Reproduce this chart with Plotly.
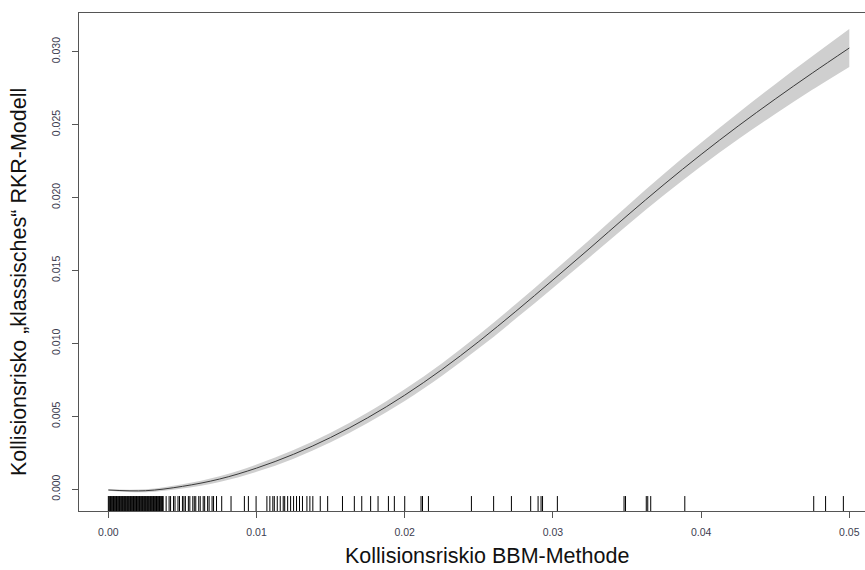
import plotly.graph_objects as go

# ---- data ----
x_grid = [0.0, 0.0025, 0.005, 0.0075, 0.01, 0.0125, 0.015, 0.0175, 0.02, 0.0225,
          0.025, 0.0275, 0.03, 0.0325, 0.035, 0.0375, 0.04, 0.0425, 0.045, 0.0475, 0.05]
fit = [-0.00005, -0.0001, 0.0002, 0.0007, 0.00145, 0.0024, 0.00355, 0.0049, 0.00645, 0.0082,
       0.01013, 0.0122, 0.01435, 0.01653, 0.01875, 0.0209, 0.02295, 0.0249, 0.02675, 0.02853, 0.03025]
ci_half = [0.00005, 0.0001, 0.00015, 0.0002, 0.00025, 0.0003, 0.00033, 0.00036, 0.0004, 0.00043,
           0.00047, 0.0005, 0.00055, 0.0006, 0.00066, 0.00073, 0.0008, 0.0009, 0.00102, 0.00115, 0.0013]

rug_x = [
    0.00000, 0.00005, 0.00010, 0.00015, 0.00020, 0.00025, 0.00030, 0.00035, 0.00040, 0.00045,
    0.00050, 0.00055, 0.00060, 0.00065, 0.00070, 0.00075, 0.00080, 0.00085, 0.00090, 0.00095,
    0.00100, 0.00105, 0.00110, 0.00115, 0.00120, 0.00125, 0.00130, 0.00135, 0.00140, 0.00145,
    0.00150, 0.00155, 0.00160, 0.00165, 0.00170, 0.00175, 0.00180, 0.00185, 0.00190, 0.00195,
    0.00200, 0.00205, 0.00210, 0.00215, 0.00220, 0.00225, 0.00230, 0.00235, 0.00240, 0.00245,
    0.00250, 0.00255, 0.00260, 0.00265, 0.00270, 0.00275, 0.00280, 0.00285, 0.00290, 0.00295,
    0.00300, 0.00305, 0.00310, 0.00315, 0.00320, 0.00325, 0.00330, 0.00335, 0.00340, 0.00345,
    0.00350, 0.00355, 0.00360, 0.00365, 0.00370,
    0.0039, 0.0041, 0.0042, 0.0044, 0.0045, 0.0047, 0.0048, 0.0050, 0.0051, 0.0052,
    0.0054, 0.0055, 0.0057, 0.0058, 0.0059, 0.0061, 0.0062, 0.0064, 0.0065, 0.0067,
    0.0068, 0.0070, 0.0071, 0.0073, 0.00765, 0.00828, 0.00918, 0.00945, 0.00997,
    0.0107, 0.0109, 0.0111, 0.0112, 0.0114, 0.0116, 0.0118, 0.0119, 0.0121, 0.0123,
    0.0125, 0.0127, 0.0129, 0.0131, 0.0134, 0.0136, 0.0138, 0.0143, 0.0148,
    0.0158, 0.0166, 0.0171, 0.0177, 0.0182, 0.0189, 0.0193, 0.0200,
    0.0211, 0.0212, 0.0216, 0.0245, 0.0260, 0.0272, 0.0285, 0.0290, 0.0292, 0.0293,
    0.0303, 0.0348, 0.0349, 0.0363, 0.0364, 0.0366, 0.0389, 0.0476, 0.0484, 0.0496,
]

x_ticks = [0.0, 0.01, 0.02, 0.03, 0.04, 0.05]
x_tick_text = ["0.00", "0.01", "0.02", "0.03", "0.04", "0.05"]
y_ticks = [0.0, 0.005, 0.01, 0.015, 0.02, 0.025, 0.03]
y_tick_text = ["0.000", "0.005", "0.010", "0.015", "0.020", "0.025", "0.030"]

x_title = "Kollisionsriskio BBM-Methode"
y_title = "Kollisionsrisko \u201eklassisches\u201c RKR-Modell"

# ---- figure ----
lower = [f - h for f, h in zip(fit, ci_half)]
upper = [f + h for f, h in zip(fit, ci_half)]

fig = go.Figure()
fig.add_trace(go.Scatter(x=x_grid, y=lower, mode="lines", line=dict(width=0, shape="spline"),
                         hoverinfo="skip", showlegend=False))
fig.add_trace(go.Scatter(x=x_grid, y=upper, mode="lines", line=dict(width=0, shape="spline"),
                         fill="tonexty", fillcolor="#cfcfcf", hoverinfo="skip", showlegend=False))
fig.add_trace(go.Scatter(x=x_grid, y=fit, mode="lines",
                         line=dict(color="#3a3a3a", width=1, shape="spline"), showlegend=False))

shapes = [dict(type="line", xref="x", yref="y domain", x0=v, x1=v, y0=0, y1=0.03,
               line=dict(color="black", width=1)) for v in rug_x]

font_family = "Liberation Sans, Arial, sans-serif"
tick_font = dict(family=font_family, size=10.5, color="#3c3c50")

fig.update_layout(
    width=865, height=570,
    margin=dict(l=79, r=0, t=13, b=59),
    paper_bgcolor="white", plot_bgcolor="white",
    shapes=shapes,
    xaxis=dict(range=[-0.00198, 0.05106], showgrid=False, zeroline=False,
               showline=True, linecolor="#555555", linewidth=1, mirror=True,
               ticks="outside", ticklen=6, tickcolor="#555555", ticklabelstandoff=5,
               tickvals=x_ticks, ticktext=x_tick_text, tickfont=tick_font),
    yaxis=dict(range=[-0.00149, 0.03265], showgrid=False, zeroline=False,
               showline=True, linecolor="#555555", linewidth=1, mirror=False,
               ticks="outside", ticklen=6, tickcolor="#555555", ticklabelstandoff=8,
               tickvals=y_ticks, ticktext=y_tick_text, tickangle=-90, tickfont=tick_font),
    annotations=[
        dict(text=x_title, xref="paper", yref="paper", x=(487 - 79) / 786, y=(511 - 556) / 498,
             showarrow=False, xanchor="center", yanchor="middle",
             font=dict(family=font_family, size=21.5, color="#111111")),
        dict(text=y_title, xref="paper", yref="paper", x=(19 - 79) / 786, y=(511 - 282) / 498,
             showarrow=False, xanchor="center", yanchor="middle", textangle=-90,
             font=dict(family=font_family, size=21.5, color="#111111")),
    ],
)

fig.write_html("out.html")
